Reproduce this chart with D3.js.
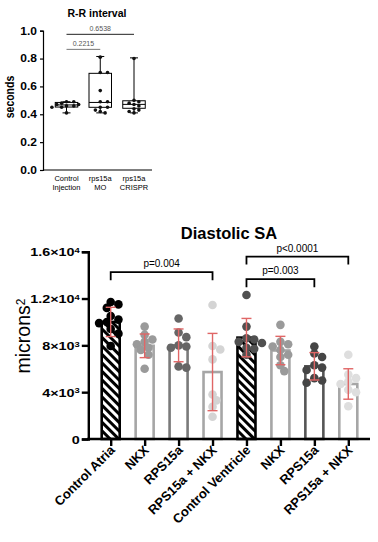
<!DOCTYPE html>
<html>
<head>
<meta charset="utf-8">
<script src="https://cdn.jsdelivr.net/npm/d3@7"></script>
<style>
    body { margin: 0; background: #fff; }
    svg { font-family: "Liberation Sans", Arial, sans-serif; display: block; }
</style>
</head>
<body>
<div id="chart"></div>
<script>
// ---- R-R interval (box plot) ----
const rrGroups = [['Control', 'Injection'], ['rps15a', 'MO'], ['rps15a', 'CRISPR']];
const rrPoints = [
    [0.49, 0.49, 0.48, 0.47, 0.47, 0.46, 0.46, 0.45, 0.45, 0.41],
    [0.81, 0.70, 0.70, 0.57, 0.49, 0.49, 0.45, 0.45, 0.43, 0.42, 0.41],
    [0.80, 0.50, 0.49, 0.48, 0.47, 0.46, 0.44, 0.43, 0.42, 0.41]
];
// min, q1, median, q3, max
const rrBoxes = [
    [0.41, 0.452, 0.467, 0.485, 0.49],
    [0.41, 0.45, 0.485, 0.694, 0.815],
    [0.41, 0.443, 0.471, 0.497, 0.805]
];
const rrTicks = [0, 0.2, 0.4, 0.6, 0.8, 1.0];
const rrPvals = [
    { from: 0, to: 1, y: 0.866, label: '0.2215' },
    { from: 0, to: 2, y: 0.974, label: '0.6538' }
];

// ---- Diastolic SA (bar + scatter) ----
const saGroups = ['Control Atria', 'NKX', 'RPS15a', 'RPS15a + NKX', 'Control Ventricle', 'NKX', 'RPS15a', 'RPS15a + NKX'];
const saMeans = [10000, 7960, 8000, 5720, 8660, 7560, 6210, 4700];
const saSD = [1250, 1010, 1400, 3300, 1640, 1210, 1170, 1300];
const saPoints = [
    [11700, 11500, 11200, 10500, 10200, 10000, 9900, 9400, 9000, 7950],
    [9600, 8900, 8500, 8300, 8100, 7800, 7600, 7200, 6000],
    [10300, 9100, 8700, 8000, 7900, 7800, 6200, 6100],
    [11450, 7950, 7650, 6800, 3800, 3300, 2750, 1900],
    [12300, 9600, 8600, 8500, 8300, 8200, 7800, 7700, 7200],
    [9750, 8300, 8100, 7900, 7600, 7200, 7000, 6300, 5800],
    [7900, 7300, 7000, 6300, 6100, 5900, 5200, 5000, 4800],
    [7200, 5500, 5200, 4900, 4700, 4200, 4000, 2800]
];
const saTicks = [0, 4000, 8000, 12000, 16000];
const saTickLabels = [['0', ''], ['4×10', '3'], ['8×10', '3'], ['1.2×10', '4'], ['1.6×10', '4']];
const saPvals = [
    { from: 0, to: 3, y: 14250, label: 'p=0.004' },
    { from: 4, to: 6, y: 13650, label: 'p=0.003' },
    { from: 4, to: 7, y: 15580, label: 'p<0.0001' }
];
const saHatched = [true, false, false, false, true, false, false, false];
const saBarStroke = ['#000', '#a6a6a6', '#7a7a7a', '#a6a6a6', '#000', '#a6a6a6', '#555', '#a6a6a6'];
const saDotFill = ['#000', '#9a9a9a', '#666', '#d4d4d4', '#505050', '#9a9a9a', '#454545', '#dedede'];

const svg = d3.select('#chart').append('svg')
    .attr('width', 378)
    .attr('height', 542);

// simple swarm so points do not sit on top of each other (deterministic)
function swarm(values, y, r, minDist) {
    const placed = [];
    return values.map(v => {
        const py = y(v);
        const step = r * 0.9;
        let off = 0;
        for (let k = 0; k < 40; k++) {
            off = k === 0 ? 0 : (k % 2 ? 1 : -1) * Math.ceil(k / 2) * step;
            const hit = placed.some(p => (p.x - off) ** 2 + (p.y - py) ** 2 < minDist ** 2);
            if (!hit) break;
        }
        placed.push({ x: off, y: py });
        return off;
    });
}

// ================= R-R interval =================
(function () {
    const g = svg.append('g');
    const x = d3.scalePoint().domain(d3.range(3)).range([66.5, 134]);
    const y = d3.scaleLinear().domain([0, 1]).range([170, 30.7]);
    const boxW = 22.5;

    g.append('text')
        .attr('x', 97).attr('y', 16.5)
        .attr('text-anchor', 'middle')
        .style('font-weight', 'bold').style('font-size', '10.5px')
        .text('R-R interval');

    g.append('text')
        .attr('transform', 'translate(14,97) rotate(-90) scale(1,1.15)')
        .attr('text-anchor', 'middle')
        .style('font-weight', 'bold').style('font-size', '10.5px')
        .text('seconds');

    const yAxis = g.append('g')
        .attr('transform', 'translate(43,0)')
        .call(d3.axisLeft(y).tickValues(rrTicks).tickFormat('').tickSize(3));
    yAxis.select('.domain').attr('stroke-width', 1.2);
    yAxis.selectAll('.tick line').attr('stroke-width', 1.2);
    yAxis.selectAll('.tick').append('text')
        .attr('transform', 'translate(-6,0) scale(1.2,1)')
        .attr('dy', '0.34em')
        .attr('text-anchor', 'end')
        .attr('fill', '#000')
        .style('font-size', '10px').style('font-weight', 'bold')
        .text(d => d3.format('.1f')(d));

    g.append('line')
        .attr('x1', 43).attr('x2', 152)
        .attr('y1', y(0)).attr('y2', y(0))
        .attr('stroke', '#000').attr('stroke-width', 1.2);

    // category labels
    rrGroups.forEach((lines, i) => {
        const t = g.append('text')
            .attr('x', x(i)).attr('y', 181)
            .attr('text-anchor', 'middle')
            .style('font-size', '7.5px');
        lines.forEach((l, j) => t.append('tspan').attr('x', x(i)).attr('dy', j ? 9 : 0).text(l));
    });

    // p-value lines
    rrPvals.forEach(p => {
        g.append('line')
            .attr('x1', x(p.from)).attr('x2', x(p.to))
            .attr('y1', y(p.y)).attr('y2', y(p.y))
            .attr('stroke', p.label === '0.2215' ? '#777' : '#222').attr('stroke-width', 1);
        g.append('text')
            .attr('x', (x(p.from) + x(p.to)) / 2).attr('y', y(p.y) - 3)
            .attr('text-anchor', 'middle')
            .style('font-size', '7px').attr('fill', '#555')
            .text(p.label);
    });

    // boxes
    rrBoxes.forEach((b, i) => {
        const cx = x(i);
        const bg = g.append('g').attr('stroke', '#000').attr('stroke-width', 1).attr('fill', 'none');
        bg.append('line').attr('x1', cx).attr('x2', cx).attr('y1', y(b[0])).attr('y2', y(b[1]));
        bg.append('line').attr('x1', cx).attr('x2', cx).attr('y1', y(b[3])).attr('y2', y(b[4]));
        bg.append('line').attr('x1', cx - 4).attr('x2', cx + 4).attr('y1', y(b[0])).attr('y2', y(b[0]));
        bg.append('line').attr('x1', cx - 4).attr('x2', cx + 4).attr('y1', y(b[4])).attr('y2', y(b[4]));
        bg.append('rect')
            .attr('x', cx - boxW / 2).attr('width', boxW)
            .attr('y', y(b[3])).attr('height', y(b[1]) - y(b[3]))
            .attr('fill', '#fff');
        bg.append('line').attr('x1', cx - boxW / 2).attr('x2', cx + boxW / 2).attr('y1', y(b[2])).attr('y2', y(b[2]));

        const offs = swarm(rrPoints[i], y, 1.8, 3.3);
        g.selectAll(null)
            .data(rrPoints[i])
            .enter()
            .append('circle')
            .attr('cx', (d, k) => cx + offs[k] * 1.5)
            .attr('cy', d => y(d))
            .attr('r', 1.8)
            .attr('fill', '#111');
    });
})();

// ================= Diastolic SA =================
(function () {
    const g = svg.append('g');
    const x = d3.scalePoint().domain(d3.range(8)).range([110.7, 348.3]);
    const y = d3.scaleLinear().domain([0, 16000]).range([439, 251.7]);
    const barW = 18;

    const defs = svg.append('defs');
    defs.append('pattern')
        .attr('id', 'hatch')
        .attr('patternUnits', 'userSpaceOnUse')
        .attr('width', 6).attr('height', 6)
        .attr('patternTransform', 'rotate(-45)')
        .append('rect')
        .attr('width', 3).attr('height', 6)
        .attr('fill', '#000');

    g.append('text')
        .attr('x', 229).attr('y', 239)
        .attr('text-anchor', 'middle')
        .style('font-weight', 'bold').style('font-size', '16.5px')
        .text('Diastolic SA');

    const yl = g.append('text')
        .attr('transform', 'translate(30,336) rotate(-90)')
        .attr('text-anchor', 'middle')
        .style('font-size', '19.5px');
    yl.append('tspan').text('microns');
    yl.append('tspan').attr('dy', '-0.45em').style('font-size', '12px').text('2');

    // bars
    saMeans.forEach((m, i) => {
        g.append('rect')
            .attr('x', x(i) - barW / 2).attr('width', barW)
            .attr('y', y(m)).attr('height', y(0) - y(m))
            .attr('fill', saHatched[i] ? 'url(#hatch)' : '#fff')
            .attr('stroke', saBarStroke[i])
            .attr('stroke-width', 2.6);
    });

    // dots
    saPoints.forEach((pts, i) => {
        const offs = swarm(pts, y, 4.3, 6.2);
        g.selectAll(null)
            .data(pts)
            .enter()
            .append('circle')
            .attr('cx', (d, k) => x(i) + offs[k])
            .attr('cy', d => y(d))
            .attr('r', 4.3)
            .attr('fill', saDotFill[i]);
    });

    // error bars (mean ± SD)
    saMeans.forEach((m, i) => {
        const eg = g.append('g').attr('stroke', '#e06666').attr('stroke-width', 1.4);
        const cx = x(i);
        eg.append('line').attr('x1', cx).attr('x2', cx).attr('y1', y(m - saSD[i])).attr('y2', y(m + saSD[i]));
        eg.append('line').attr('x1', cx - 5).attr('x2', cx + 5).attr('y1', y(m - saSD[i])).attr('y2', y(m - saSD[i]));
        eg.append('line').attr('x1', cx - 5).attr('x2', cx + 5).attr('y1', y(m + saSD[i])).attr('y2', y(m + saSD[i]));
    });

    // axes
    const yAxis = g.append('g')
        .attr('transform', 'translate(88.3,0)')
        .call(d3.axisLeft(y).tickValues(saTicks).tickFormat('').tickSize(6.5));
    yAxis.select('.domain').attr('stroke-width', 2.4);
    yAxis.selectAll('.tick line').attr('stroke-width', 2.4);
    yAxis.selectAll('.tick').each(function (d, i) {
        const t = d3.select(this).append('text')
            .attr('transform', 'translate(-8.5,0) scale(1.25,1)')
            .attr('dy', '0.36em')
            .attr('text-anchor', 'end')
            .attr('fill', '#000')
            .style('font-size', '11.5px').style('font-weight', 'bold');
        t.append('tspan').text(saTickLabels[i][0]);
        if (saTickLabels[i][1]) t.append('tspan').attr('dy', '-0.45em').style('font-size', '7.5px').text(saTickLabels[i][1]);
    });

    const xAxis = g.append('g')
        .attr('transform', `translate(0,${y(0)})`)
        .call(d3.axisBottom(x).tickSize(7).tickFormat(''));
    xAxis.select('.domain').attr('d', 'M' + (88.3 - 1.2) + ',0H370').attr('stroke-width', 2.4);
    xAxis.selectAll('.tick line').attr('stroke-width', 2.4);
    xAxis.selectAll('.tick').append('text')
        .attr('transform', 'translate(4.5,12) rotate(-45)')
        .attr('text-anchor', 'end')
        .attr('fill', '#000')
        .style('font-size', '13px').style('font-weight', 'bold')
        .text(i => saGroups[i]);

    // significance brackets
    saPvals.forEach(p => {
        const x1 = x(p.from), x2 = x(p.to), yy = y(p.y);
        g.append('path')
            .attr('d', `M${x1},${yy + 8}V${yy}H${x2}V${yy + 8}`)
            .attr('fill', 'none')
            .attr('stroke', '#000')
            .attr('stroke-width', 1.8);
        g.append('text')
            .attr('x', (x1 + x2) / 2).attr('y', yy - 5)
            .attr('text-anchor', 'middle')
            .style('font-size', '10px')
            .text(p.label);
    });
})();
</script>
</body>
</html>
